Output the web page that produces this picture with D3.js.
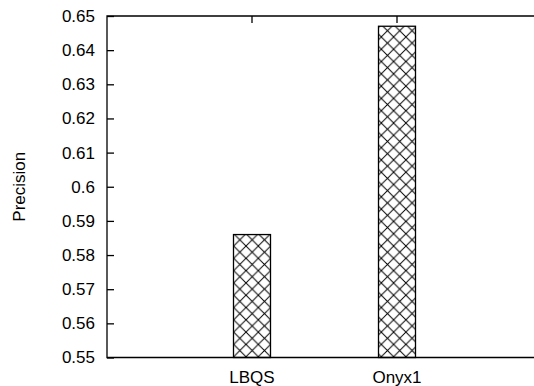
<!DOCTYPE html>
<html>
<head>
<meta charset="utf-8">
<script src="https://cdn.jsdelivr.net/npm/d3@7"></script>
<style>
  html, body { margin: 0; padding: 0; background: #fff; }
  svg { display: block; }
  text { font-family: "Liberation Sans", Arial, sans-serif; fill: #000; }
</style>
</head>
<body>
<svg id="chart" width="534" height="386"></svg>
<script>
const categories = ["LBQS", "Onyx1"];
const precision = [0.586, 0.647];
const yTicks = [0.55, 0.56, 0.57, 0.58, 0.59, 0.6, 0.61, 0.62, 0.63, 0.64, 0.65];

const svg = d3.select("#chart");
const plotLeft = 107, plotRight = 542, plotTop = 16, plotBottom = 357.5;

// categories sit at 1 and 2 on a 0..3 axis, right border falls off the picture
const x = d3.scaleLinear().domain([0, 3]).range([plotLeft, plotRight]);
const y = d3.scaleLinear().domain([0.55, 0.65]).range([plotBottom, plotTop]);
const barWidth = 37;

const defs = svg.append("defs");
const pattern = defs.append("pattern")
  .attr("id", "crosshatch")
  .attr("patternUnits", "userSpaceOnUse")
  .attr("width", 12.3)
  .attr("height", 12.3);
pattern.append("rect").attr("width", 12.3).attr("height", 12.3).attr("fill", "#fff");
pattern.append("path")
  .attr("d", "M0,0L12.3,12.3M12.3,0L0,12.3")
  .attr("stroke", "#000")
  .attr("stroke-width", 1);

// bars
svg.append("g")
  .selectAll("rect")
  .data(categories)
  .join("rect")
  .attr("x", (d, i) => x(i + 1) - barWidth / 2)
  .attr("y", (d, i) => y(precision[i]))
  .attr("width", barWidth)
  .attr("height", (d, i) => plotBottom - y(precision[i]))
  .attr("fill", "url(#crosshatch)")
  .attr("stroke", "#000")
  .attr("stroke-width", 1.3);

// y axis
const yAxis = svg.append("g")
  .attr("transform", `translate(${plotLeft},0)`)
  .call(d3.axisLeft(y).tickValues(yTicks).tickSize(-7).tickPadding(12).tickFormat(d3.format("")));
yAxis.select(".domain").remove();
yAxis.selectAll("line").attr("stroke", "#000").attr("stroke-width", 1.3);
yAxis.selectAll("text").attr("font-size", 17).attr("font-family", "Liberation Sans, Arial, sans-serif");

// top ticks (category positions, pointing down)
svg.append("g")
  .selectAll("line")
  .data(categories)
  .join("line")
  .attr("x1", (d, i) => x(i + 1))
  .attr("x2", (d, i) => x(i + 1))
  .attr("y1", plotTop)
  .attr("y2", plotTop + 7)
  .attr("stroke", "#000")
  .attr("stroke-width", 1.3);

// x labels
svg.append("g")
  .selectAll("text")
  .data(categories)
  .join("text")
  .attr("x", (d, i) => x(i + 1))
  .attr("y", plotBottom + 25)
  .attr("text-anchor", "middle")
  .attr("font-size", 17)
  .text((d) => d);

// border
svg.append("path")
  .attr("d", `M${plotRight},${plotTop}H${plotLeft}V${plotBottom}H${plotRight}Z`)
  .attr("fill", "none")
  .attr("stroke", "#000")
  .attr("stroke-width", 1.3);

// y label
svg.append("text")
  .attr("transform", `translate(25,${(plotTop + plotBottom) / 2}) rotate(-90)`)
  .attr("text-anchor", "middle")
  .attr("font-size", 17)
  .text("Precision");
</script>
</body>
</html>
